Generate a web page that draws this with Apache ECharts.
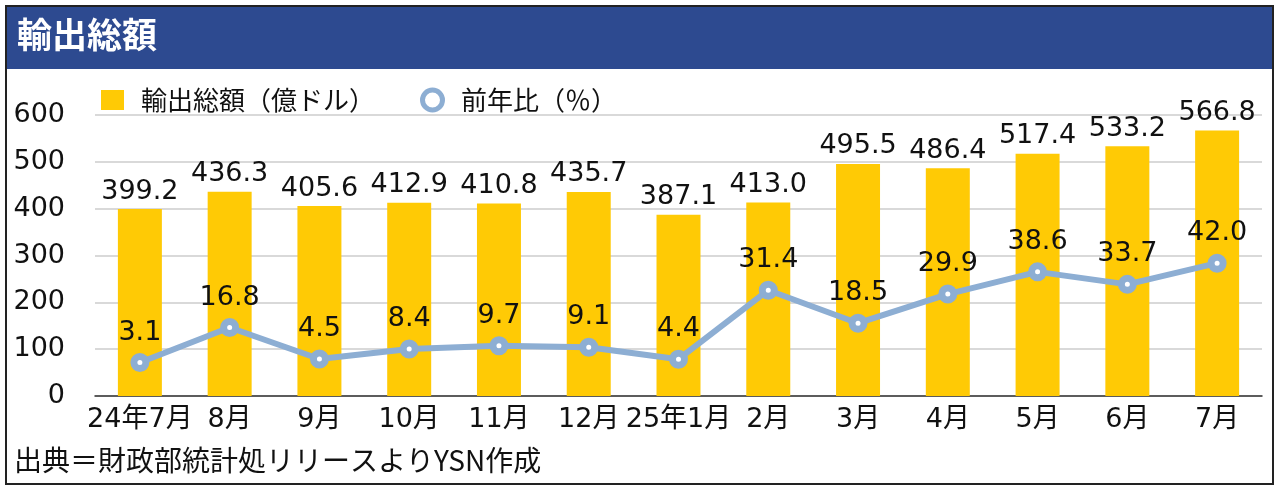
<!DOCTYPE html>
<html>
<head>
<meta charset="utf-8">
<script src="https://cdn.jsdelivr.net/npm/echarts@6/dist/echarts.min.js"></script>
<style>
  html, body { margin: 0; padding: 0; background: #fff; }
  #main { width: 1280px; height: 491px; }
</style>
</head>
<body>
<div id="main"></div>
<script>
// 月ラベル
var months = ['24年7月', '8月', '9月', '10月', '11月', '12月', '25年1月', '2月', '3月', '4月', '5月', '6月', '7月'];
// 輸出総額（億ドル）
var exportTotal = [399.2, 436.3, 405.6, 412.9, 410.8, 435.7, 387.1, 413.0, 495.5, 486.4, 517.4, 533.2, 566.8];
// 前年比（％）
var yoyRate = [3.1, 16.8, 4.5, 8.4, 9.7, 9.1, 4.4, 31.4, 18.5, 29.9, 38.6, 33.7, 42.0];
var yTicks = [0, 100, 200, 300, 400, 500, 600];

var FONT = '"DejaVu Sans", "Noto Sans CJK JP", sans-serif';
var LINE_COLOR = '#8daed3';
var myChart = echarts.init(document.getElementById('main'));

var option = {
    backgroundColor: '#fff',
    animation: false,
    textStyle: { fontFamily: FONT },
    graphic: [
        // 外枠
        { type: 'rect', shape: { x: 6, y: 6, width: 1267, height: 478 }, style: { fill: 'none', stroke: '#222', lineWidth: 2 }, z: 10 },
        // タイトル帯
        { type: 'rect', shape: { x: 7, y: 7, width: 1265, height: 62 }, style: { fill: '#2d4a90' }, z: 1 },
        { type: 'text', left: 17, top: 17, style: { text: '輸出総額', fill: '#fff', font: 'bold 35px "Noto Sans CJK JP"' }, z: 2 },
        // 出典
        { type: 'text', left: 14, top: 446, style: { text: '出典＝財政部統計処リリースよりYSN作成', fill: '#111', font: '28px "Noto Sans CJK JP"' }, z: 2 }
    ],
    legend: {
        left: 96,
        top: 82,
        itemGap: 45,
        itemWidth: 23,
        itemHeight: 20,
        textStyle: { fontSize: 26, color: '#111', fontFamily: '"Noto Sans CJK JP"', padding: [0, 0, 0, 12] },
        data: [
            { name: '輸出総額（億ドル）', icon: 'rect' },
            { name: '前年比（％）', icon: 'circle', itemStyle: { color: '#fff', borderColor: LINE_COLOR, borderWidth: 5 } }
        ]
    },
    grid: { left: 95, right: 18, top: 115, bottom: 95 },
    xAxis: {
        type: 'category',
        data: months,
        axisTick: { show: false },
        axisLine: { lineStyle: { color: '#333', width: 1.5 } },
        axisLabel: { fontSize: 27, color: '#111', margin: 10, interval: 0 }
    },
    yAxis: [{
        type: 'value',
        min: yTicks[0],
        max: yTicks[yTicks.length - 1],
        interval: 100,
        axisLabel: { fontSize: 27, color: '#111', margin: 30 },
        splitLine: { lineStyle: { color: '#cccccc', width: 1.5 } },
        axisLine: { show: false },
        axisTick: { show: false }
    }, {
        type: 'value',
        min: -10,
        max: 100,
        show: false,
        splitLine: { show: false }
    }],
    series: [{
        name: '輸出総額（億ドル）',
        type: 'bar',
        data: exportTotal,
        barWidth: '49%',
        itemStyle: { color: '#ffca05' },
        label: {
            show: true,
            position: 'top',
            distance: 4,
            fontSize: 27,
            color: '#111',
            formatter: function (p) { return p.value.toFixed(1); }
        }
    }, {
        name: '前年比（％）',
        type: 'line',
        yAxisIndex: 1,
        data: yoyRate,
        symbol: 'circle',
        symbolSize: 12,
        lineStyle: { color: LINE_COLOR, width: 6 },
        itemStyle: { color: '#fff', borderColor: LINE_COLOR, borderWidth: 7 },
        label: {
            show: true,
            position: 'top',
            distance: 7,
            fontSize: 27,
            color: '#111',
            formatter: function (p) { return p.value.toFixed(1); }
        },
        z: 3
    }]
};
myChart.setOption(option);
</script>
</body>
</html>
